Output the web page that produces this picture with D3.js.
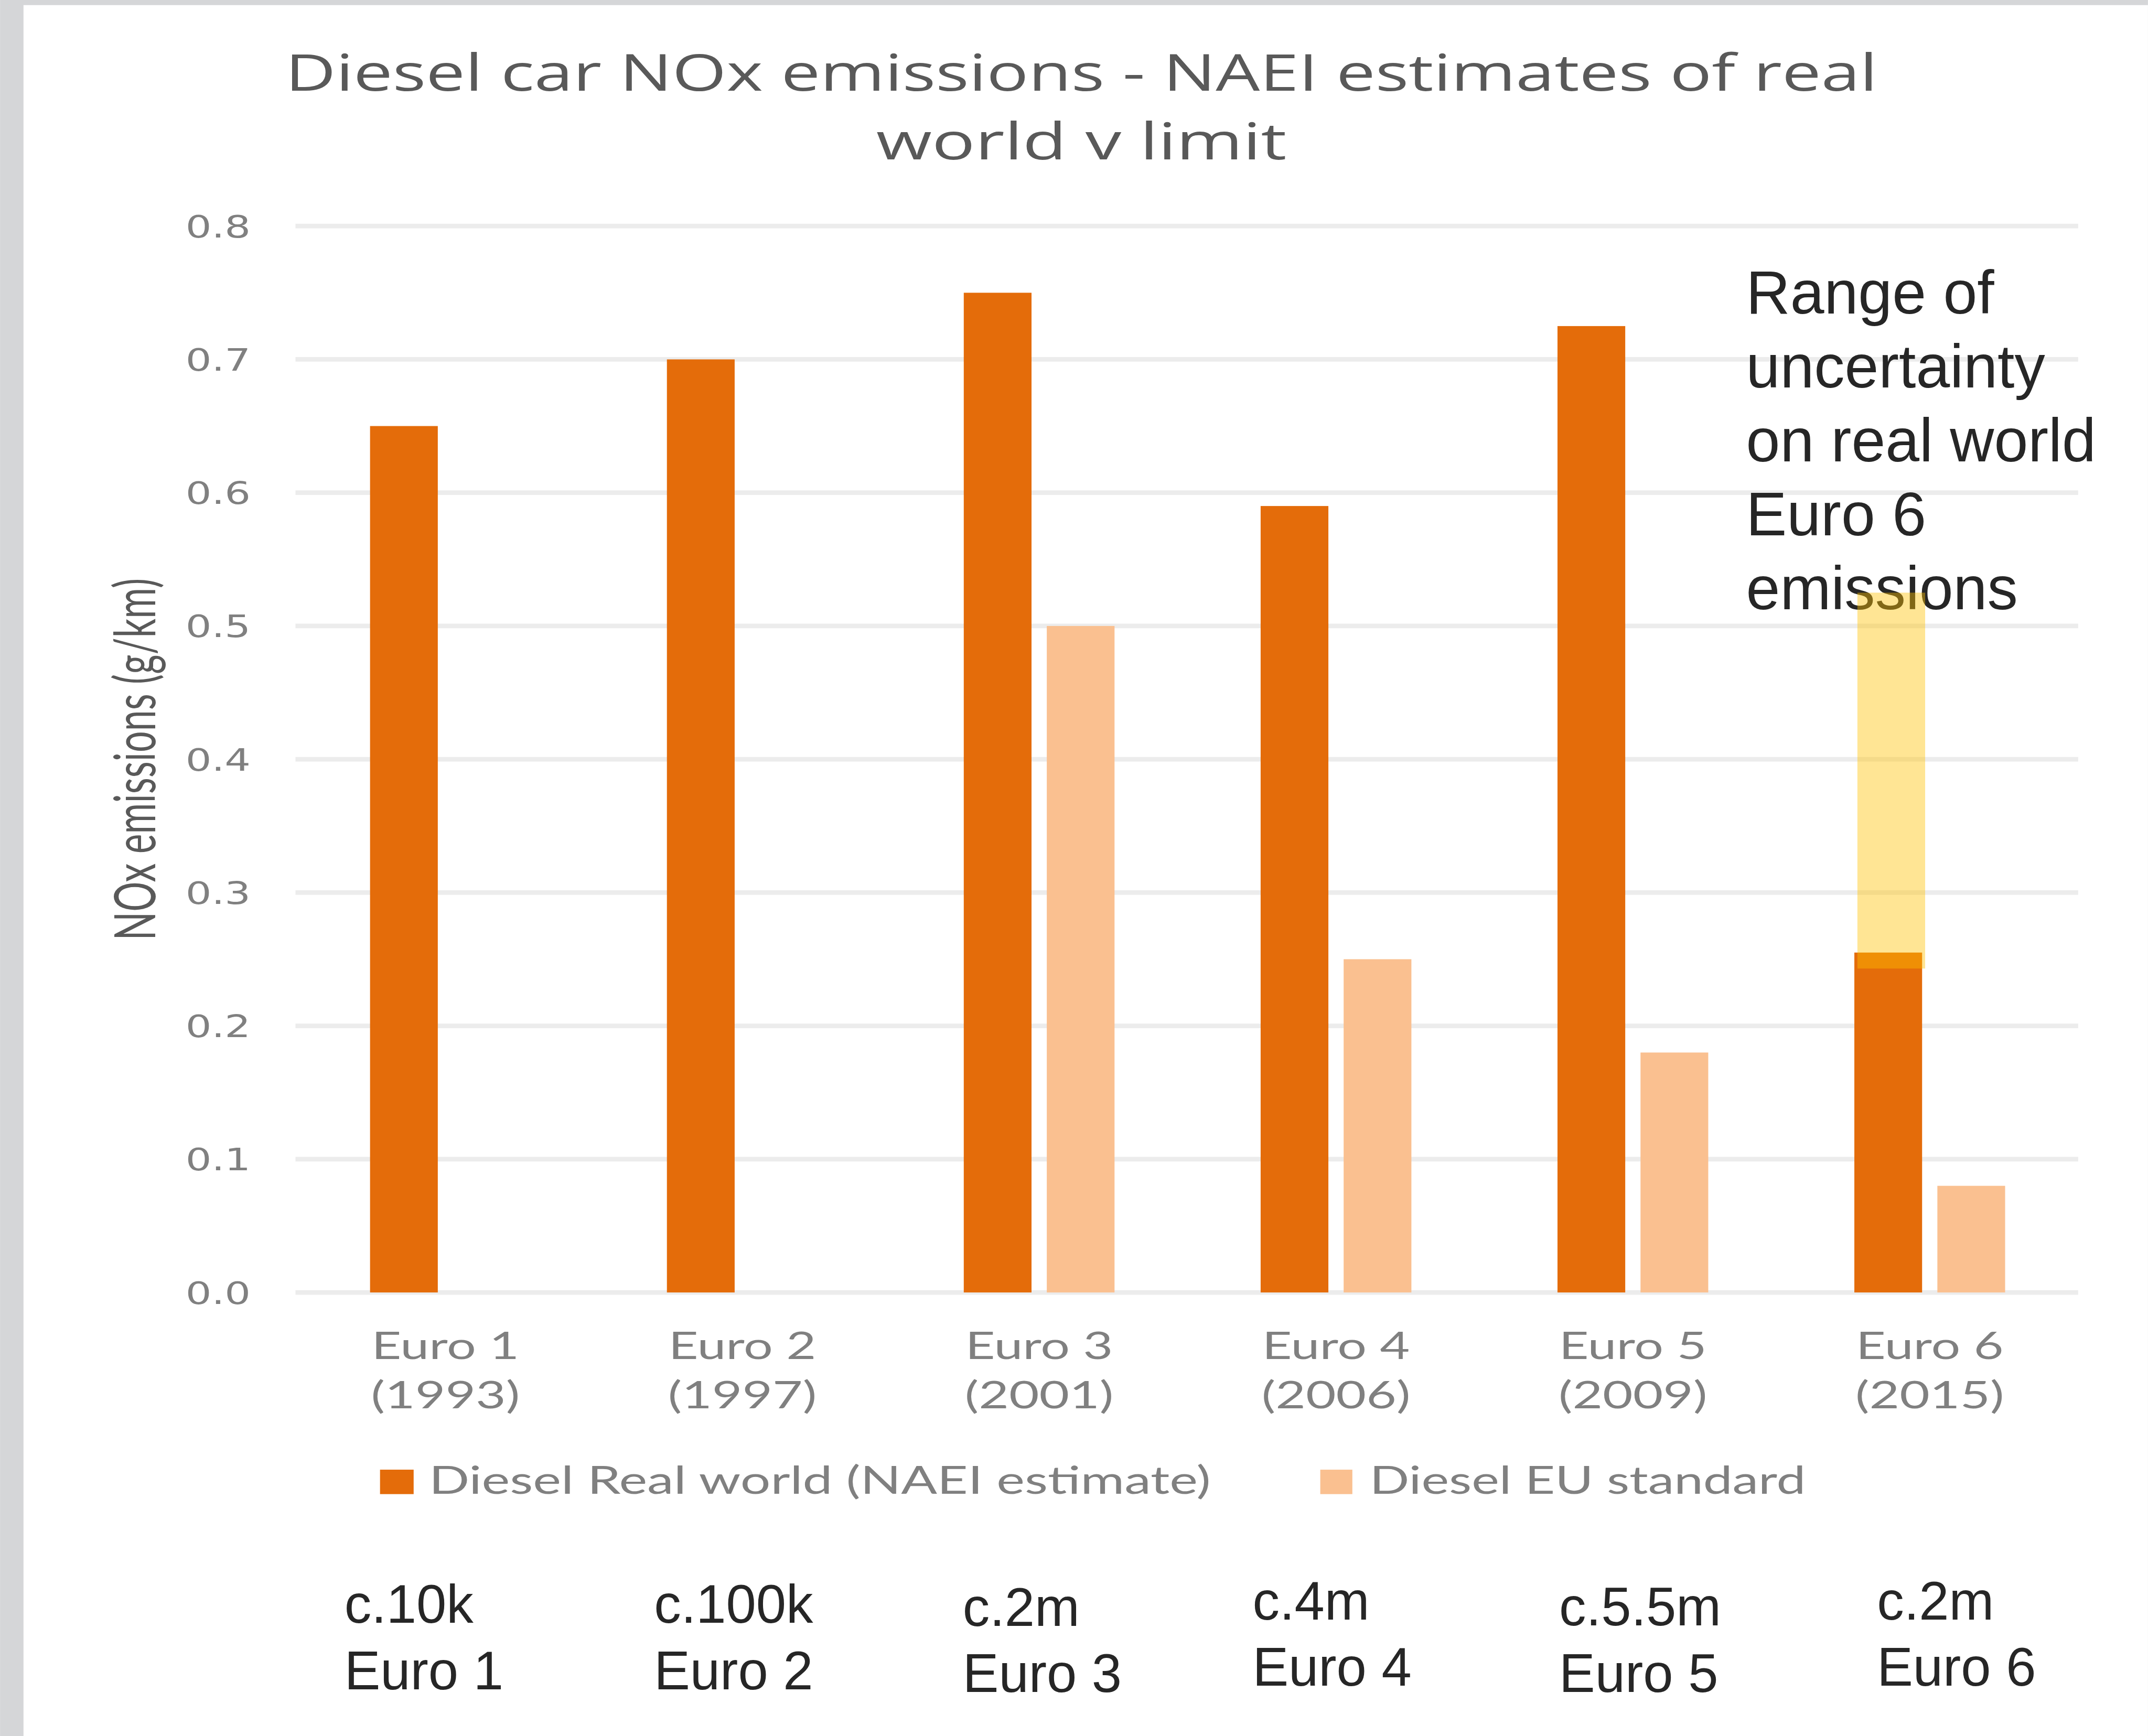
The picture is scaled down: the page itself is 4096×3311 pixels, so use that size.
<!DOCTYPE html>
<html>
<head>
<meta charset="utf-8">
<script src="https://cdn.jsdelivr.net/npm/d3@7"></script>
<style>
  html, body { margin: 0; padding: 0; background: #ffffff; overflow: hidden; }
  svg { display: block; }
</style>
</head>
<body>
<script>
// ---------------- data ----------------
const categories   = ["Euro 1", "Euro 2", "Euro 3", "Euro 4", "Euro 5", "Euro 6"];
const years        = ["(1993)", "(1997)", "(2001)", "(2006)", "(2009)", "(2015)"];
const realWorld    = [0.65, 0.70, 0.75, 0.59, 0.725, 0.255];
const euStandard   = [null, null, 0.50, 0.25, 0.18, 0.08];
const seriesNames  = ["Diesel Real world (NAEI estimate)", "Diesel EU standard"];
const uncertaintyCategory = "Euro 6";
const uncertaintyRange = [0.243, 0.525];
const registrations = ["c.10k", "c.100k", "c.2m", "c.4m", "c.5.5m", "c.2m"];
const yTicks       = [0, 0.1, 0.2, 0.3, 0.4, 0.5, 0.6, 0.7, 0.8];
const titleLines   = ["Diesel car NOx emissions - NAEI estimates of real", "world v limit"];
const yAxisTitle   = "NOx emissions (g/km)";
const annotationLines = ["Range of", "uncertainty", "on real world", "Euro 6", "emissions"];

// ---------------- layout ----------------
const W = 4217, H = 3409;
const colDark = "#E46C0A", colLight = "#FAC090", colUnc = "#FFC000";
const gray = "#808080", darkGray = "#595959", textDark = "#262626";

const svg = d3.select("body").append("svg")
  .attr("width", 4096).attr("height", 3311)
  .attr("viewBox", `0 0 ${W} ${H}`);

function stretch(sel, len) {
  return sel.attr("textLength", len).attr("lengthAdjust", "spacingAndGlyphs");
}

// frame
svg.append("rect").attr("x", 0).attr("y", 0).attr("width", W).attr("height", H).attr("fill", "#D5D6D8");
svg.append("rect").attr("x", 46).attr("y", 10).attr("width", W - 46).attr("height", H - 10).attr("fill", "#ffffff");

// scales
const x0 = d3.scaleBand().domain(categories).range([583, 4080]).padding(0);
const pairW = 296;
const x1 = d3.scaleBand().domain(seriesNames).range([0, pairW]).paddingInner(0.184).paddingOuter(0);
const y = d3.scaleLinear().domain([0, 0.8]).range([2538, 444]);
const pairLeft = c => x0(c) + x0.bandwidth() / 2 - pairW / 2;

// title
const title = svg.append("g").attr("font-family", "'Open Sans', 'Noto Sans', sans-serif")
  .attr("font-size", 100).attr("fill", darkGray).attr("text-anchor", "middle");
const titleLens = [3126, 806];
const titleBase = [178, 313];
titleLines.forEach((t, i) => {
  stretch(title.append("text").attr("x", 2123).attr("y", titleBase[i]).text(t), titleLens[i]);
});

// gridlines
svg.append("g").selectAll("line").data(yTicks).join("line")
  .attr("x1", 580).attr("x2", 4080)
  .attr("y1", d => y(d)).attr("y2", d => y(d))
  .attr("stroke", "#ECECEC").attr("stroke-width", 9);

// y axis labels
const yAxis = svg.append("g").attr("transform", "translate(580,0)")
  .call(d3.axisLeft(y).tickValues(yTicks).tickFormat(d3.format(".1f")).tickSize(0).tickPadding(88));
yAxis.select(".domain").remove();
yAxis.selectAll("text")
  .attr("font-family", "'DejaVu Sans', sans-serif").attr("font-size", 60)
  .attr("fill", gray).attr("dy", "0.36em");
yAxis.selectAll("text").each(function () { stretch(d3.select(this), 128); });

// y axis title
stretch(svg.append("text")
  .attr("transform", "translate(305,1491) rotate(-90)")
  .attr("text-anchor", "middle")
  .attr("font-family", "Lato, 'Open Sans', sans-serif").attr("font-size", 112)
  .attr("fill", darkGray).text(yAxisTitle), 711);

// annotation text (drawn before uncertainty band so band overlays it)
const ann = svg.append("g").attr("font-family", "'Liberation Sans', Arial, sans-serif")
  .attr("font-size", 120).attr("fill", textDark);
annotationLines.forEach((t, i) => {
  ann.append("text").attr("x", 3428).attr("y", 616 + i * 145).text(t);
});

// bars
const barData = [];
categories.forEach((c, i) => {
  if (realWorld[i] != null) barData.push({ c, s: seriesNames[0], v: realWorld[i], col: colDark });
  if (euStandard[i] != null) barData.push({ c, s: seriesNames[1], v: euStandard[i], col: colLight });
});
svg.append("g").selectAll("rect").data(barData).join("rect")
  .attr("x", d => pairLeft(d.c) + x1(d.s))
  .attr("width", x1.bandwidth())
  .attr("y", d => y(d.v))
  .attr("height", d => y(0) - y(d.v))
  .attr("fill", d => d.col);

// uncertainty band
svg.append("rect")
  .attr("x", pairLeft(uncertaintyCategory) + x1(seriesNames[0]) + 6)
  .attr("width", x1.bandwidth())
  .attr("y", y(uncertaintyRange[1]))
  .attr("height", y(uncertaintyRange[0]) - y(uncertaintyRange[1]))
  .attr("fill", colUnc).attr("fill-opacity", 0.42);

// x axis labels
const xl = svg.append("g").attr("font-family", "Lato, 'Open Sans', sans-serif")
  .attr("font-size", 74).attr("fill", gray).attr("text-anchor", "middle");
categories.forEach((c, i) => {
  const cx = x0(c) + x0.bandwidth() / 2;
  stretch(xl.append("text").attr("x", cx).attr("y", 2669).text(c), 290);
  stretch(xl.append("text").attr("x", cx).attr("y", 2766).text(years[i]), 292);
});

// legend
const legend = svg.append("g").attr("font-family", "Lato, 'Open Sans', sans-serif")
  .attr("font-size", 76).attr("fill", gray);
const legItems = [
  { name: seriesNames[0], col: colDark, sx: 746, sw: 66, tx: 842, tl: 1535 },
  { name: seriesNames[1], col: colLight, sx: 2592, sw: 63, tx: 2689, tl: 856 }
];
legItems.forEach(d => {
  legend.append("rect").attr("x", d.sx).attr("y", 2886).attr("width", d.sw).attr("height", 48).attr("fill", d.col);
  stretch(legend.append("text").attr("x", d.tx).attr("y", 2933).text(d.name), d.tl);
});

// registration annotations below chart
const regPos = [[676, 3187], [1284, 3187], [1890, 3193], [2459, 3180], [3061, 3192], [3685, 3180]];
const reg = svg.append("g").attr("font-family", "'Liberation Sans', Arial, sans-serif")
  .attr("font-size", 106).attr("fill", textDark);
categories.forEach((c, i) => {
  reg.append("text").attr("x", regPos[i][0]).attr("y", regPos[i][1]).text(registrations[i]);
  reg.append("text").attr("x", regPos[i][0]).attr("y", regPos[i][1] + 130).text(c);
});
</script>
</body>
</html>
